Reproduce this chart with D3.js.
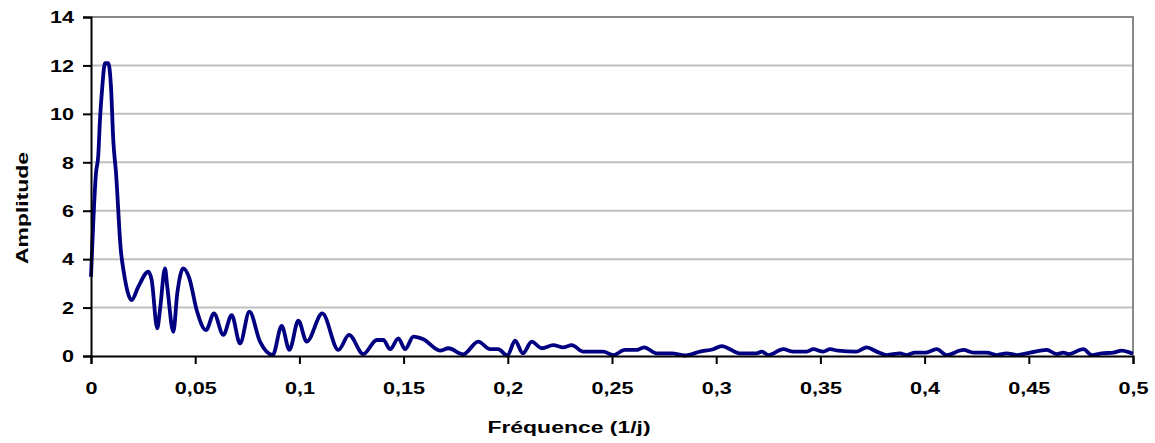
<!DOCTYPE html>
<html>
<head>
<meta charset="utf-8">
<script src="https://cdn.jsdelivr.net/npm/d3@7"></script>
<style>
  body { margin: 0; background: #fff; }
  text { font-family: "Liberation Sans", Arial, sans-serif; font-weight: bold; fill: #000; }
</style>
</head>
<body>
<script>
// spectre d'amplitude
const freq = [0, 0.0024, 0.0035, 0.0043, 0.0054, 0.0067, 0.0083, 0.0096, 0.0107, 0.012,
  0.0143, 0.0158, 0.0195, 0.0227, 0.0275, 0.0291, 0.0318, 0.0331, 0.0355, 0.0366,
  0.0395, 0.0414, 0.0443, 0.0472, 0.0507, 0.0552, 0.059, 0.0635, 0.0675, 0.0715,
  0.076, 0.0811, 0.0872, 0.0915, 0.0952, 0.0995, 0.1035, 0.111, 0.1187, 0.1238,
  0.1307, 0.1371, 0.1403, 0.1435, 0.1475, 0.1507, 0.1547, 0.1595, 0.1675, 0.1715,
  0.1786, 0.1858, 0.1915, 0.1954, 0.1998, 0.2035, 0.2072, 0.2115, 0.2163, 0.2218,
  0.2266, 0.2307, 0.2362, 0.2458, 0.2506, 0.2562, 0.2619, 0.2654, 0.2714, 0.2786,
  0.285, 0.2922, 0.2986, 0.3026, 0.3114, 0.3194, 0.3218, 0.325, 0.3322, 0.337,
  0.3434, 0.3466, 0.3514, 0.3546, 0.3586, 0.3674, 0.3722, 0.377, 0.3818, 0.3882,
  0.3914, 0.3954, 0.4002, 0.4058, 0.4106, 0.4186, 0.4234, 0.4298, 0.4346, 0.4394,
  0.4442, 0.4506, 0.4586, 0.4634, 0.4666, 0.469, 0.4762, 0.4802, 0.485, 0.4906,
  0.4946, 0.4986, 0.5]
const amplitude = [3.27, 7.56, 8.3, 9.75, 11.1, 12.09, 12.09, 11.1, 8.9, 7.56,
  4.38, 3.43, 2.31, 2.86, 3.48, 3.14, 1.14, 1.9, 3.62, 2.86,
  1.0, 2.59, 3.62, 3.21, 1.9, 1.07, 1.76, 0.87, 1.69, 0.52,
  1.83, 0.59, 0.04, 1.24, 0.25, 1.46, 0.59, 1.76, 0.25, 0.87,
  0.08, 0.66, 0.66, 0.28, 0.73, 0.28, 0.8, 0.69, 0.22, 0.32,
  0.07, 0.59, 0.28, 0.28, 0.02, 0.63, 0.11, 0.59, 0.32, 0.45,
  0.36, 0.45, 0.18, 0.18, 0.04, 0.25, 0.25, 0.36, 0.11, 0.11,
  0.02, 0.18, 0.28, 0.41, 0.11, 0.11, 0.18, 0.04, 0.28, 0.18,
  0.18, 0.28, 0.18, 0.28, 0.22, 0.18, 0.36, 0.18, 0.04, 0.11,
  0.04, 0.14, 0.14, 0.28, 0.04, 0.25, 0.14, 0.14, 0.04, 0.11,
  0.04, 0.14, 0.25, 0.08, 0.14, 0.08, 0.28, 0.04, 0.11, 0.14,
  0.22, 0.14, 0.1]

const xTicks = [0, 0.05, 0.1, 0.15, 0.2, 0.25, 0.3, 0.35, 0.4, 0.45, 0.5]
const xTickLabels = ["0", "0,05", "0,1", "0,15", "0,2", "0,25", "0,3", "0,35", "0,4", "0,45", "0,5"]
const yTicks = [0, 2, 4, 6, 8, 10, 12, 14]

const width = 1155, height = 443
const margin = {top: 17, right: 22, bottom: 87, left: 91}
const stretch = 1.35   // le texte d'Excel est un peu étiré en largeur

const svg = d3.select("body").append("svg")
    .attr("width", width)
    .attr("height", height)

const x = d3.scaleLinear().domain([0, 0.5]).range([margin.left, width - margin.right])
const y = d3.scaleLinear().domain([0, 14]).range([height - margin.bottom, margin.top])

// grille horizontale
svg.append("g")
    .selectAll("line")
    .data(yTicks.filter(d => d > 0 && d < 14))
    .enter()
    .append("line")
    .attr("x1", x(0))
    .attr("x2", x(0.5))
    .attr("y1", d => y(d))
    .attr("y2", d => y(d))
    .style("stroke", "#c0c0c0")
    .style("stroke-width", 2)

// cadre haut et droite
svg.append("path")
    .attr("d", `M${x(0)},${y(14)}H${x(0.5)}V${y(0)}`)
    .style("fill", "none")
    .style("stroke", "#888")
    .style("stroke-width", 2)

// courbe
const line = d3.line()
    .x((d, i) => x(freq[i]))
    .y(d => y(d))
    .curve(d3.curveMonotoneX)

svg.append("path")
    .datum(amplitude)
    .attr("d", line)
    .style("fill", "none")
    .style("stroke", "#000080")
    .style("stroke-width", 3.8)
    .style("stroke-linejoin", "round")

// axes
const xAxis = svg.append("g")
    .attr("transform", `translate(0,${y(0)})`)
    .call(d3.axisBottom(x).tickValues(xTicks).tickSize(8).tickFormat((d, i) => xTickLabels[i]))
xAxis.select(".domain").style("stroke", "#000").style("stroke-width", 2)
xAxis.selectAll(".tick line").style("stroke", "#000").style("stroke-width", 2)
xAxis.selectAll(".tick text")
    .attr("y", 38)
    .attr("dy", null)
    .attr("transform", `scale(${stretch},1)`)
    .style("font-size", "16px")
    .style("font-family", "'Liberation Sans', Arial, sans-serif")
    .style("font-weight", "bold")

const yAxis = svg.append("g")
    .attr("transform", `translate(${x(0)},0)`)
    .call(d3.axisLeft(y).tickValues(yTicks).tickSize(8).tickFormat(d3.format("d")))
yAxis.select(".domain").style("stroke", "#000").style("stroke-width", 2)
yAxis.selectAll(".tick line").style("stroke", "#000").style("stroke-width", 2)
yAxis.selectAll(".tick text")
    .attr("x", -17 / stretch)
    .attr("dy", "0.36em")
    .attr("transform", `scale(${stretch},1)`)
    .style("font-size", "16px")
    .style("font-family", "'Liberation Sans', Arial, sans-serif")
    .style("font-weight", "bold")

// titres des axes
svg.append("text")
    .attr("transform", `translate(569,433) scale(${stretch},1)`)
    .attr("text-anchor", "middle")
    .style("font-size", "17px")
    .text("Fréquence (1/j)")

svg.append("text")
    .attr("transform", `translate(28,208) rotate(-90) scale(${stretch},1)`)
    .attr("text-anchor", "middle")
    .style("font-size", "17px")
    .text("Amplitude")
</script>
</body>
</html>
